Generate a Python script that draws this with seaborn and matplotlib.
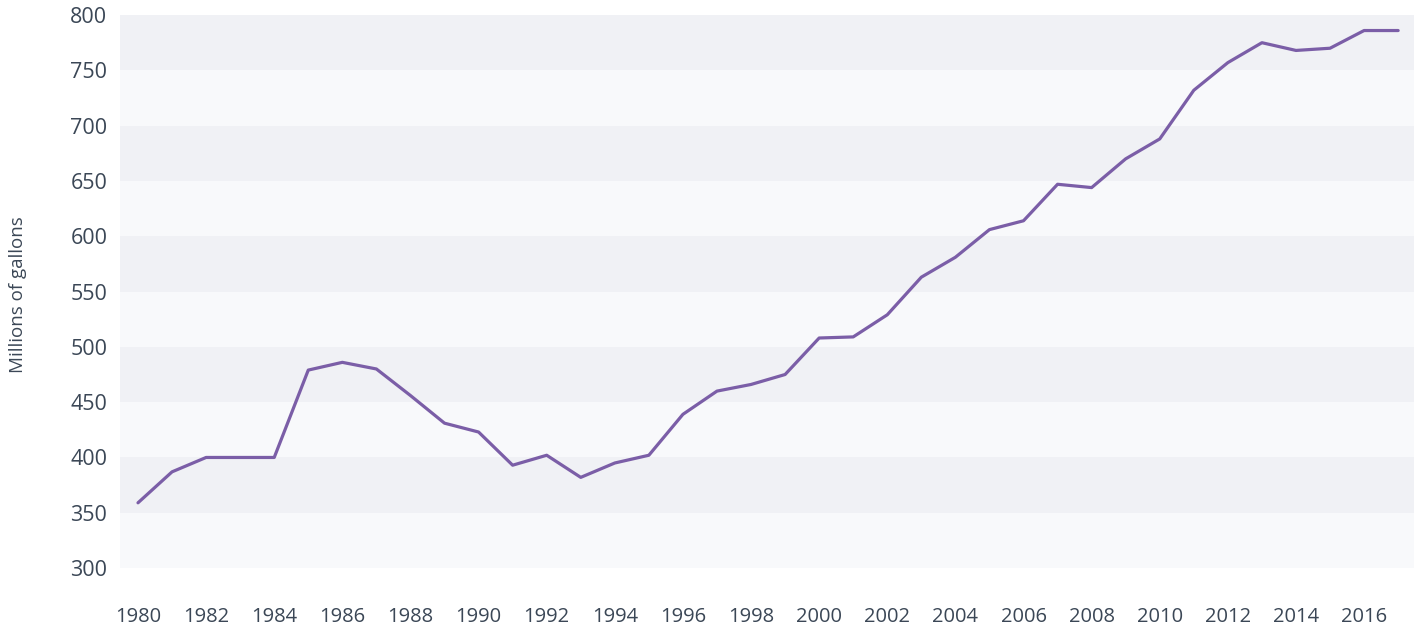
import matplotlib
matplotlib.use("Agg")
import matplotlib.pyplot as plt
import seaborn as sns
import pandas as pd
import numpy as np

years = list(range(1980, 2018))
gallons = [359, 387, 400, 400, 400, 479, 486, 480, 456, 431,
           423, 393, 402, 382, 395, 402, 439, 460, 466, 475,
           508, 509, 529, 563, 581, 606, 614, 647, 644, 670,
           688, 732, 757, 775, 768, 770, 786, 786]
y_ticks = [300, 350, 400, 450, 500, 550, 600, 650, 700, 750, 800]
x_ticks = list(range(1980, 2017, 2))
y_label = "Millions of gallons"

df = pd.DataFrame({"year": years, "gallons": gallons})

sns.set_theme(style="white")
plt.rcParams['font.family'] = ['Open Sans', 'DejaVu Sans']

fig = plt.figure(figsize=(14.16, 6.27), dpi=100)
ax = fig.add_axes([0.0847, 0.094, 0.914, 0.882])

dark = "#f0f1f5"
light = "#f8f9fb"
for i in range(len(y_ticks) - 1):
    lo, hi = y_ticks[i], y_ticks[i + 1]
    ax.axhspan(lo, hi, color=light if i % 2 == 0 else dark, lw=0, zorder=0)

sns.lineplot(data=df, x="year", y="gallons", ax=ax, color="#7b5ea7", lw=2.3, zorder=3)

ax.set_xlim(1979.47, 2017.47)
ax.set_ylim(300, 800)
ax.set_xticks(x_ticks)
ax.set_xticklabels([str(t) for t in x_ticks])
ax.set_yticks(y_ticks)
ax.set_yticklabels([str(t) for t in y_ticks])
ax.tick_params(axis="x", length=0, pad=28, labelsize=14.5, labelcolor="#3b4756")
ax.tick_params(axis="y", length=0, pad=9, labelsize=15.5, labelcolor="#3b4756")
ax.set_xlabel("")
ax.set_ylabel(y_label, fontsize=13.5, color="#3b4756")
ax.yaxis.set_label_coords(-0.072, 0.495)
for s in ax.spines.values():
    s.set_visible(False)
ax.grid(False)

fig.savefig("out.png", dpi=100)
